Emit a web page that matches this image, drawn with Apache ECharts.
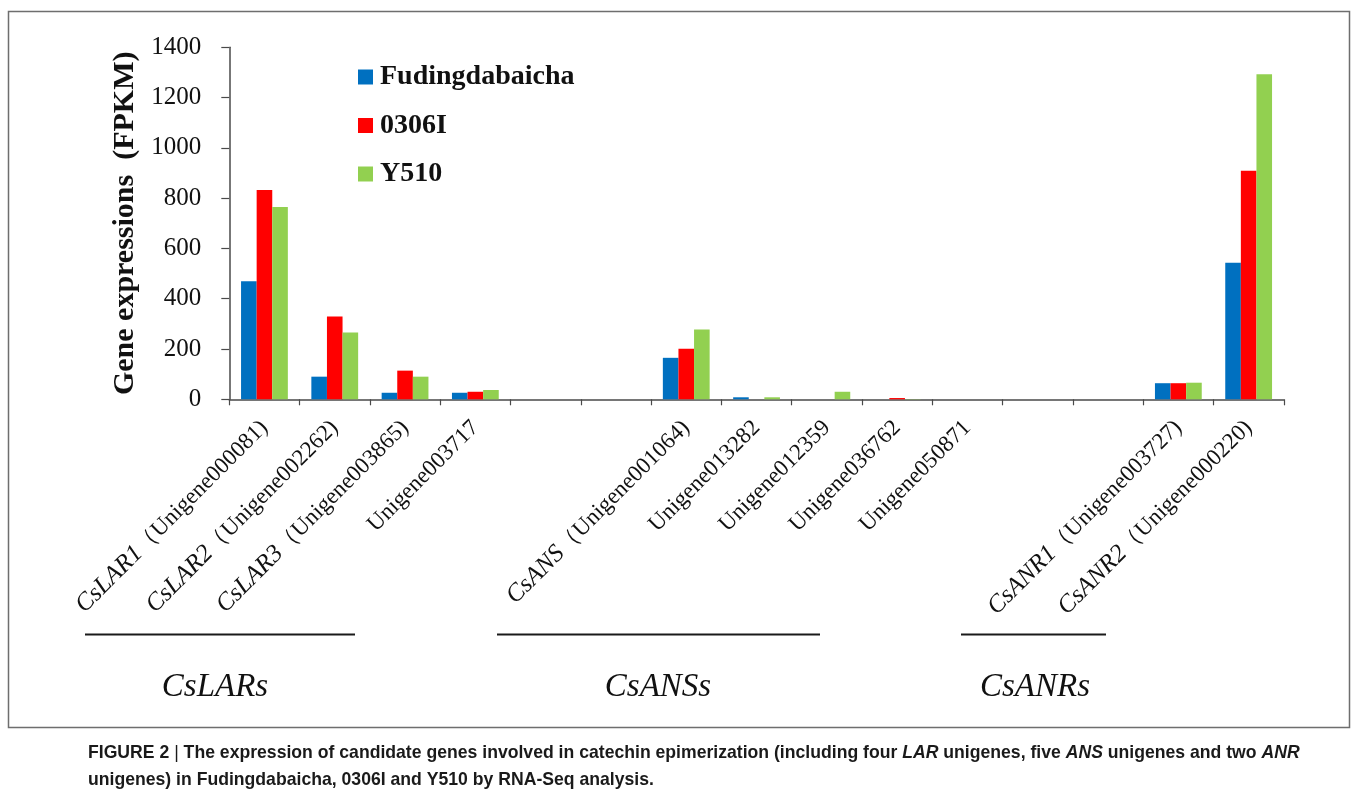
<!DOCTYPE html>
<html>
<head>
<meta charset="utf-8">
<title>Catechin epimerization gene expression</title>
<script src="https://cdn.jsdelivr.net/npm/echarts@6/dist/echarts.min.js"></script>
<style>
  html, body { margin: 0; padding: 0; background: #ffffff; }
  #chart { width: 1358px; height: 793px; }
</style>
</head>
<body>
<div id="chart"></div>
<script>
// Unigene categories (gene name in italics, unigene id in parentheses); blanks separate the groups
const categories = [
  'CsLAR1（Unigene000081）', 'CsLAR2（Unigene002262）', 'CsLAR3（Unigene003865）', 'Unigene003717',
  '', '',
  'CsANS（Unigene001064）', 'Unigene013282', 'Unigene012359', 'Unigene036762', 'Unigene050871',
  '', '',
  'CsANR1（Unigene003727）', 'CsANR2（Unigene000220）'
];

// FPKM values per cultivar
const fudingdabaicha = [470, 90, 26, 26, null, null, 165, 8, 0, 0, 0, null, null, 64, 543];
const line0306I      = [832, 329, 114, 30, null, null, 201, 0, 0, 5, 0, null, null, 64, 909];
const y510           = [765, 266, 90, 37, null, null, 278, 8, 30, 1, 0, null, null, 66, 1293];

const seriesNames = ['Fudingdabaicha', '0306I', 'Y510'];
const seriesColors = ['#0070C0', '#FF0000', '#92D050'];

// Y axis ticks
const yMin = 0, yMax = 1400, yStep = 200;

// Gene family groups shown under the axis labels
const groupNames = ['CsLARs', 'CsANSs', 'CsANRs'];

const captionLine1 = 'FIGURE 2 | The expression of candidate genes involved in catechin epimerization (including four LAR unigenes, five ANS unigenes and two ANR';
const captionLine2 = 'unigenes) in Fudingdabaicha, 0306I and Y510 by RNA-Seq analysis.';

const serif = '"Liberation Serif", "Times New Roman", serif';
const sans = '"Liberation Sans", Arial, sans-serif';
const captionFont = 'bold 18.5px ' + sans;

const chart = echarts.init(document.getElementById('chart'), null, { renderer: 'canvas' });

// gene name in italics; the closing bracket is set tight against the id
function xLabel(v) {
  if (!v) return '';
  const i = v.indexOf('（');
  if (i < 0) return '{u|' + v + '}';
  return '{g|' + v.slice(0, i) + '}{u|' + v.slice(i).replace('）', ')') + '}';
}

// condensed caption: squeeze the sans face horizontally to the caption width
const measureCtx = document.createElement('canvas').getContext('2d');
measureCtx.font = captionFont;
const captionScale = 1212 / measureCtx.measureText(captionLine1).width;

function captionRich(line) {
  return line
    .replace('FIGURE 2 | ', '{b|FIGURE 2 }{bar|| }{b|')
    .replace(/ (LAR|ANS|ANR)( |$)/g, ' }{i|$1}{b|$2') + '}';
}

const seriesData = [fudingdabaicha, line0306I, y510];

const groupLines = [[85, 355], [497, 820], [961, 1106]];
const groupCenters = [215, 658, 1035];

const graphics = [
  {
    type: 'rect', silent: true, z: -1,
    shape: { x: 8.5, y: 11.5, width: 1341, height: 716 },
    style: { fill: null, stroke: '#6e6e6e', lineWidth: 1.5 }
  }
];
groupLines.forEach(function (p) {
  graphics.push({
    type: 'line', silent: true,
    shape: { x1: p[0], y1: 634.5, x2: p[1], y2: 634.5 },
    style: { stroke: '#1a1a1a', lineWidth: 2 }
  });
});
groupNames.forEach(function (name, k) {
  graphics.push({
    type: 'text', silent: true,
    x: groupCenters[k], y: 687,
    style: {
      text: name, fill: '#111', font: 'italic 33px ' + serif,
      align: 'center', verticalAlign: 'middle'
    }
  });
});
graphics.push({
  type: 'text', silent: true, x: 88, y: 743, scaleX: captionScale,
  style: {
    text: captionRich(captionLine1),
    fill: '#1a1a1a',
    rich: {
      b: { font: captionFont, fill: '#1a1a1a' },
      i: { font: 'italic ' + captionFont, fill: '#1a1a1a' },
      bar: { font: '18.5px ' + sans, fill: '#1a1a1a' }
    }
  }
});
graphics.push({
  type: 'text', silent: true, x: 88, y: 770, scaleX: captionScale,
  style: { text: captionLine2, fill: '#1a1a1a', font: captionFont }
});

chart.setOption({
  animation: false,
  backgroundColor: '#ffffff',
  grid: { left: 229.3, right: 74.2, top: 47.3, bottom: 393.7, containLabel: false },
  legend: {
    orient: 'vertical',
    left: 358, top: 63, padding: 0,
    itemWidth: 15, itemHeight: 15, itemGap: 20.5,
    icon: 'rect',
    data: seriesNames,
    textStyle: {
      fontFamily: serif, fontWeight: 'bold', fontSize: 28, color: '#111',
      lineHeight: 28, padding: [0, 0, 0, 2]
    }
  },
  xAxis: {
    type: 'category',
    data: categories,
    axisLine: { lineStyle: { color: '#4a4a4a', width: 1.5 } },
    axisTick: { show: true, length: 6, alignWithLabel: false, lineStyle: { color: '#4a4a4a', width: 1.2 } },
    axisLabel: {
      interval: 0, rotate: 45, margin: 25,
      formatter: xLabel,
      rich: {
        g: { fontFamily: serif, fontStyle: 'italic', fontSize: 25, color: '#111' },
        u: { fontFamily: serif, fontSize: 23, color: '#111' }
      }
    },
    splitLine: { show: false }
  },
  yAxis: {
    type: 'value',
    min: yMin, max: yMax, interval: yStep,
    name: 'Gene expressions  (FPKM)',
    nameLocation: 'middle', nameRotate: 90, nameGap: 79,
    nameTextStyle: { fontFamily: serif, fontWeight: 'bold', fontSize: 30, color: '#111' },
    axisLine: { show: true, lineStyle: { color: '#4a4a4a', width: 1.5 } },
    axisTick: { show: true, length: 8, lineStyle: { color: '#4a4a4a', width: 1.2 } },
    axisLabel: {
      margin: 28, fontFamily: serif, fontSize: 25, color: '#111',
      formatter: function (v) { return String(v); }
    },
    splitLine: { show: false }
  },
  series: seriesNames.map(function (name, k) {
    return {
      name: name,
      type: 'bar',
      data: seriesData[k],
      barWidth: 15.6,
      barGap: '0%',
      itemStyle: { color: seriesColors[k] }
    };
  }),
  graphic: graphics
});
</script>
</body>
</html>
